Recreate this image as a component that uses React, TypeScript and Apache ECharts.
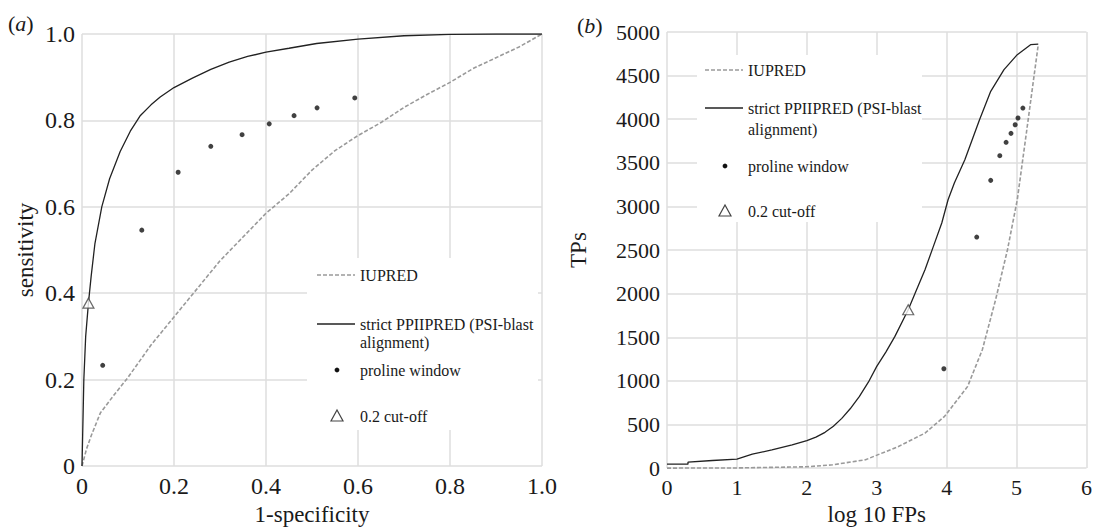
import React, { useEffect, useRef } from "react";
import * as echarts from "echarts";

// ---------- data: panel (a) ROC ----------
const rocSolid: [number, number][] = [
  [0, 0], [0.002, 0.1], [0.004, 0.2], [0.008, 0.3], [0.014, 0.377], [0.02, 0.44],
  [0.028, 0.514], [0.043, 0.6], [0.06, 0.665], [0.083, 0.728], [0.105, 0.775],
  [0.126, 0.81], [0.15, 0.836], [0.17, 0.854], [0.2, 0.876], [0.24, 0.898],
  [0.28, 0.918], [0.32, 0.935], [0.36, 0.948], [0.4, 0.958], [0.45, 0.967],
  [0.51, 0.978], [0.6, 0.988], [0.7, 0.996], [0.8, 0.999], [0.9, 1.0], [1.0, 1.0],
];
const rocDashed: [number, number][] = [
  [0, 0], [0.01, 0.04], [0.02, 0.07], [0.04, 0.123], [0.07, 0.165], [0.1, 0.205],
  [0.15, 0.28], [0.2, 0.345], [0.25, 0.41], [0.3, 0.475], [0.35, 0.53], [0.4, 0.585],
  [0.45, 0.63], [0.5, 0.685], [0.55, 0.73], [0.6, 0.765], [0.65, 0.795], [0.7, 0.83],
  [0.75, 0.86], [0.8, 0.888], [0.85, 0.92], [0.9, 0.945], [0.95, 0.97], [1.0, 1.0],
];
const rocProline: [number, number][] = [
  [0.045, 0.233], [0.13, 0.546], [0.209, 0.68], [0.28, 0.74], [0.348, 0.767],
  [0.407, 0.792], [0.461, 0.811], [0.511, 0.829], [0.593, 0.852],
];
const rocCutoff: [number, number][] = [[0.014, 0.377]];

// ---------- data: panel (b) TPs vs log10 FPs ----------
const tpSolid: [number, number][] = [
  [0, 45], [0.3, 45], [0.3, 68], [0.65, 87], [1.0, 102], [1.22, 159], [1.5, 208],
  [1.79, 265], [2.0, 315], [2.13, 355], [2.26, 410], [2.38, 480], [2.5, 570],
  [2.62, 680], [2.75, 820], [2.88, 985], [3.0, 1166], [3.13, 1330], [3.26, 1510],
  [3.45, 1816], [3.55, 2007], [3.69, 2274], [3.81, 2542], [3.93, 2810], [4.02, 3077],
  [4.11, 3268], [4.26, 3536], [4.47, 3995], [4.63, 4320], [4.82, 4568], [5.01, 4740],
  [5.2, 4855], [5.31, 4860],
];
const tpDashed: [number, number][] = [
  [0, 0], [1, 2], [2, 15], [2.37, 38], [2.84, 96], [3.31, 248], [3.69, 401],
  [3.97, 593], [4.3, 937], [4.51, 1357], [4.7, 1931], [4.87, 2504], [5.01, 3077],
  [5.14, 3842], [5.31, 4855],
];
const tpProline: [number, number][] = [
  [3.96, 1139], [4.43, 2649], [4.63, 3299], [4.76, 3582], [4.85, 3735],
  [4.92, 3838], [4.98, 3937], [5.02, 4014], [5.09, 4128],
];
const tpCutoff: [number, number][] = [[3.45, 1816]];

const seriesNames = ["IUPRED", "strict PPIIPRED (PSI-blast\nalignment)", "proline window", "0.2 cut-off"];
const panelLabels = ["a", "b"];
const axisNames = { ax: "1-specificity", ay: "sensitivity", bx: "log 10 FPs", by: "TPs" };

const FONT = "Liberation Serif, DejaVu Serif, serif";
const GRID = "#dedede";
const TEXT = "#1a1a1a";
const SOLID = "#222222";
const DASH = "#9a9a9a";

function legendGroup(x0: number, ys: number[], lh: number, fs: number, box: number[]) {
  const [bx, by, bw, bh] = box;
  const els: any[] = [
    { type: "rect", z: 1, shape: { x: bx, y: by, width: bw, height: bh }, style: { fill: "#ffffff" } },
    {
      type: "line", z: 3,
      shape: { x1: x0 - 43, y1: ys[0], x2: x0 - 5, y2: ys[0] },
      style: { stroke: DASH, lineWidth: 1.6, lineDash: [4, 2] },
    },
    {
      type: "line", z: 3,
      shape: { x1: x0 - 43, y1: ys[1], x2: x0 - 5, y2: ys[1] },
      style: { stroke: SOLID, lineWidth: 1.3 },
    },
    { type: "circle", z: 3, shape: { cx: x0 - 23, cy: ys[2], r: 2.4 }, style: { fill: "#111" } },
    {
      type: "polygon", z: 3,
      shape: { points: [[x0 - 29, ys[3] + 5], [x0 - 17, ys[3] + 5], [x0 - 23, ys[3] - 6]] },
      style: { fill: "#fff", stroke: "#444", lineWidth: 1.2 },
    },
  ];
  seriesNames.forEach((t, i) => {
    els.push({
      type: "text", z: 3, x: x0, y: ys[i] - lh / 2,
      style: { text: t, fontSize: fs, fontFamily: FONT, fill: TEXT, lineHeight: lh, verticalAlign: "top", align: "left" },
    });
  });
  return els;
}

function panelLabel(t: string, x: number, y: number) {
  return {
    type: "text", z: 3, x, y,
    style: {
      text: `{p|(}{i|${t}}{p|)}`,
      rich: {
        p: { fontSize: 22, fontFamily: FONT, fill: TEXT },
        i: { fontSize: 22, fontFamily: FONT, fontStyle: "italic", fill: TEXT },
      },
    },
  };
}

export default function App() {
  const ref = useRef<HTMLDivElement>(null);
  useEffect(() => {
    if (!ref.current) return;
    const chart = echarts.init(ref.current, null, { renderer: "svg" });
    const fmt1 = (v: number) => `{t|${v === 0 ? "0" : v.toFixed(1)}}`;
    const fmt0 = (v: number) => `{t|${String(v)}}`;
    const axisCommon = (fs: number, formatter: (v: number) => string) => ({
      axisLine: { show: false },
      axisTick: { show: false },
      splitLine: { show: true, lineStyle: { color: GRID, width: 1.5 } },
      axisLabel: {
        color: TEXT, fontFamily: FONT, fontSize: fs, margin: 7, formatter,
        rich: { t: { color: TEXT, fontFamily: FONT, fontSize: fs, lineHeight: fs + 2 } },
      },
      nameTextStyle: { color: TEXT, fontFamily: FONT, fontSize: 23 },
      nameLocation: "middle",
    });
    const option: any = {
      animation: false,
      backgroundColor: "#ffffff",
      textStyle: { fontFamily: FONT },
      grid: [
        { left: 82, top: 34, width: 460, height: 438 },
        { left: 667, top: 32, width: 423, height: 443 },
      ],
      xAxis: [
        { ...axisCommon(24, fmt1), gridIndex: 0, type: "value", min: 0, max: 1, interval: 0.2, name: axisNames.ax, nameGap: 37 },
        { ...axisCommon(22, fmt0), gridIndex: 1, type: "value", min: 0, max: 6, interval: 1, name: axisNames.bx, nameGap: 32 },
      ],
      yAxis: [
        { ...axisCommon(24, fmt1), gridIndex: 0, type: "value", min: 0, max: 1, interval: 0.2, name: axisNames.ay, nameGap: 45 },
        { ...axisCommon(22, fmt0), gridIndex: 1, type: "value", min: 0, max: 5000, interval: 500, name: axisNames.by, nameGap: 77 },
      ],
      series: [
        { type: "line", xAxisIndex: 0, yAxisIndex: 0, data: rocDashed, showSymbol: false, z: 2,
          lineStyle: { color: DASH, width: 1.6, type: [4, 2] } },
        { type: "line", xAxisIndex: 0, yAxisIndex: 0, data: rocSolid, showSymbol: false, z: 3,
          lineStyle: { color: SOLID, width: 1.3 } },
        { type: "scatter", xAxisIndex: 0, yAxisIndex: 0, data: rocProline, symbol: "circle", symbolSize: 5, z: 4,
          itemStyle: { color: "#111" } },
        { type: "scatter", xAxisIndex: 0, yAxisIndex: 0, data: rocCutoff, symbol: "triangle", symbolSize: [11, 10], z: 5,
          itemStyle: { color: "#fff", borderColor: "#444", borderWidth: 1.2 } },
        { type: "line", xAxisIndex: 1, yAxisIndex: 1, data: tpDashed, showSymbol: false, z: 2,
          lineStyle: { color: DASH, width: 1.6, type: [4, 2] } },
        { type: "line", xAxisIndex: 1, yAxisIndex: 1, data: tpSolid, showSymbol: false, z: 3,
          lineStyle: { color: SOLID, width: 1.3 } },
        { type: "scatter", xAxisIndex: 1, yAxisIndex: 1, data: tpProline, symbol: "circle", symbolSize: 5, z: 4,
          itemStyle: { color: "#111" } },
        { type: "scatter", xAxisIndex: 1, yAxisIndex: 1, data: tpCutoff, symbol: "triangle", symbolSize: [11, 10], z: 5,
          itemStyle: { color: "#fff", borderColor: "#444", borderWidth: 1.2 } },
      ],
      graphic: [
        ...legendGroup(360, [275, 324, 370, 416], 18, 16, [307, 258, 231, 172]),
        ...legendGroup(748, [70, 108, 166, 211], 21, 16, [697, 55, 225, 167]),
        panelLabel(panelLabels[0], 8, 12),
        panelLabel(panelLabels[1], 577, 14),
      ],
    };
    chart.setOption(option);
    return () => chart.dispose();
  }, []);
  return (
    <div
      ref={ref}
      style={{ position: "fixed", left: 0, top: 0, width: 1095, height: 531, background: "#fff" }}
    />
  );
}
